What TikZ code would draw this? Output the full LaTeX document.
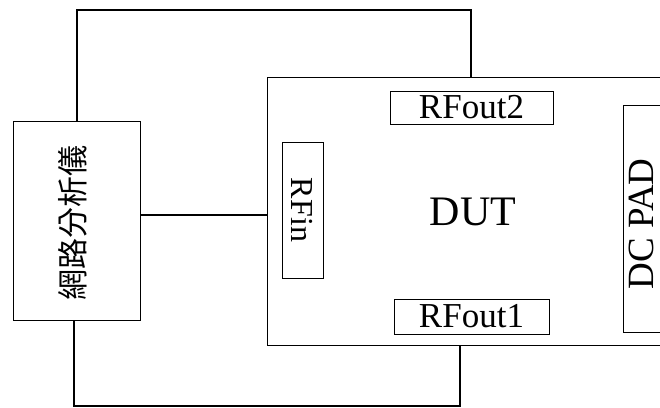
\documentclass[tikz,border=0pt]{standalone}
\usepackage{fontspec}
\setmainfont{Liberation Serif}
\newfontfamily\cjkfont{Noto Sans CJK TC}
\begin{document}
\begin{tikzpicture}[x=1pt,y=-1pt,
  box/.style={draw=black, line width=1pt, rectangle, inner sep=0pt},
  wire/.style={draw=black, line width=1.1pt}]
\useasboundingbox[fill=white] (0,0) rectangle (660,407);
% boxes
\node[box, minimum width=127, minimum height=199] (ana) at (76.5,220.5) {};
\node[rotate=90, font=\cjkfont\fontsize{31}{31}\selectfont] (anatext) at (72.5,223) {網路分析儀};
\node[box, minimum width=398, minimum height=268] (dut) at (466,211) {};
\node[font=\fontsize{42}{42}\selectfont] (duttext) at (473,212) {DUT};
\node[box, minimum width=163, minimum height=33, font=\fontsize{35}{35}\selectfont] (rfout2) at (471.5,107.5) {RFout2};
\node[box, minimum width=155, minimum height=35, font=\fontsize{35}{35}\selectfont] (rfout1) at (471.5,316.5) {RFout1};
\node[box, minimum width=41, minimum height=136] (rfin) at (302.5,210) {};
\node[rotate=-90, font=\fontsize{32}{32}\selectfont] (rfintext) at (302,210) {RFin};
\node[box, minimum width=40, minimum height=227] (dcpad) at (643,218.5) {};
\node[rotate=90, font=\fontsize{37}{37}\selectfont] (dcpadtext) at (641,224) {DC PAD};
% connectors
\coordinate (tl) at (77,10);
\coordinate (tr) at (471,10);
\coordinate (bl) at (74,406);
\coordinate (br) at (460,406);
\coordinate (mid) at (0,215);
\draw[wire] (tl |- ana.north) -- (tl) -- (tr) -- (tr |- dut.north);
\draw[wire] (bl |- ana.south) -- (bl) -- (br) -- (br |- dut.south);
\draw[wire] (mid -| ana.east) -- (mid -| dut.west);
\end{tikzpicture}
\end{document}
